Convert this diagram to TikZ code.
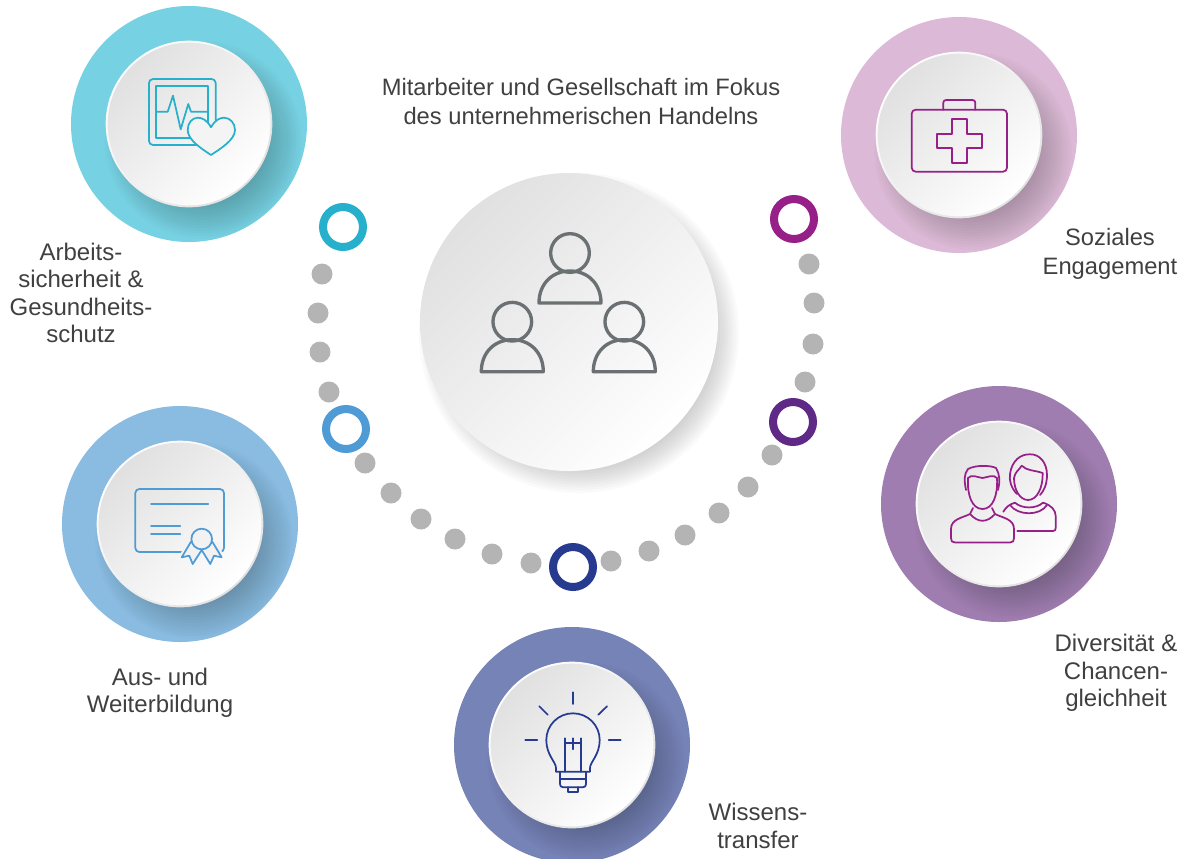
\documentclass[tikz,border=0pt]{standalone}
\usepackage{fontspec}
\setmainfont{Liberation Sans}
\definecolor{txtgrey}{HTML}{404040}
\definecolor{dotgrey}{HTML}{B4B4B4}
\definecolor{iconcyan}{HTML}{26B0CC}
\definecolor{iconmag}{HTML}{962087}
\definecolor{iconblue}{HTML}{4F9BD5}
\definecolor{iconnavy}{HTML}{263B8F}
\definecolor{icongrey}{HTML}{6B7072}
\colorlet{D4}{black!12}
\colorlet{E1}{black!12}
\tikzstyle{greydot}=[circle,fill=dotgrey,inner sep=0pt,minimum size=15.75pt]
\tikzstyle{ringdot}=[circle,fill=white,line width=6pt,inner sep=0pt,minimum size=30pt]
\tikzstyle{outerdisc}=[circle,inner sep=0pt,minimum size=177pt]
\tikzstyle{rimdisc}=[circle,inner sep=0pt,minimum size=125pt,
                     top color=white,bottom color=D4,shading angle=45]
\tikzstyle{facedisc}=[circle,inner sep=0pt,minimum size=122pt,
                      top color=E1,bottom color=white,shading angle=45]
\tikzstyle{label}=[text=txtgrey,align=center,font=\fontsize{18}{20.6}\selectfont]
\tikzstyle{widelabel}=[text=txtgrey,align=center,font=\fontsize{17.8}{21.75}\selectfont]
\tikzstyle{icon}=[line width=1.3pt,line join=round,line cap=round]
\newcommand{\badge}[4]{%
  \node (#1) at (#2,#3) [outerdisc,fill=#4]{};
  \begin{scope}
    \clip (#2,#3) circle (88.5pt);
    \foreach \r in {46,48,...,74}
      \fill[black,fill opacity=.015] (#2+14,#3+16) circle (\r pt);
  \end{scope}
  \node (#1rim) at (#2,#3) [rimdisc]{};
  \node (#1face) at (#2,#3) [facedisc]{};
}
\begin{document}
\begin{tikzpicture}[x=0.75pt,y=-0.75pt]
  \useasboundingbox (0,0) rectangle (1186,858);
  \clip (0,0) rectangle (1186,858);

  % centre disc
  \foreach \r in {100,102,...,120}
    \fill[black,fill opacity=.018] (579,333) circle (\r pt);
  \node (centre) at (569,322) [circle,inner sep=0pt,minimum size=223.5pt,
    top color=E1,bottom color=white,shading angle=45]{};
  \foreach \x/\y [count=\i] in {570/253,512.3/321.7,624.3/321.7}{
    \node (head\i) at (\x,\y) [circle,draw=icongrey,line width=2.5pt,
      inner sep=0pt,minimum size=29pt]{};
    \draw[icongrey,line width=2.5pt,line join=round] (\x-31,\y+50)
      .. controls (\x-31,\y+31) and (\x-18,\y+18) .. (\x,\y+18)
      .. controls (\x+18,\y+18) and (\x+31,\y+31) .. (\x+31,\y+50) -- cycle;
  }

  % dotted arc
  \foreach \x/\y [count=\i] in {322/274,318/313,320/352,329/392,365/463,391/493,
      421/519,455/539,492/554,531/563,611/561,649/551,685/535,719/513,748/487,
      772/455,805/382,813/344,814/303,809/264}
    \node (dot\i) at (\x,\y) [greydot]{};
  \node (ring1) at (343,227) [ringdot,draw=iconcyan]{};
  \node (ring2) at (346,429) [ringdot,draw=iconblue]{};
  \node (ring3) at (573,567) [ringdot,draw=iconnavy]{};
  \node (ring4) at (793,422) [ringdot,draw={rgb,255:red,94;green,42;blue,133}]{};
  \node (ring5) at (794,219) [ringdot,draw=iconmag]{};

  % badges
  \definecolor{cyanout}{HTML}{76D2E2}
  \definecolor{lilacout}{HTML}{DCB9D6}
  \definecolor{purpleout}{HTML}{A07DB0}
  \definecolor{navyout}{HTML}{7683B7}
  \definecolor{blueout}{HTML}{8ABBE1}
  \badge{health}{189}{124}{cyanout}
  \badge{social}{959}{135}{lilacout}
  \badge{divers}{999}{504}{purpleout}
  \badge{know}{572}{745}{navyout}
  \badge{train}{180}{524}{blueout}

  % monitor and heart
  \begin{scope}[icon,draw=iconcyan]
    \draw[rounded corners=3pt] (149,79) rectangle (215.7,145);
    \draw (156,86) rectangle (208.3,138.3);
    \draw (156,111.7) -- (167.7,111.7) -- (173,95.7) -- (180.7,129.3)
      -- (188.3,104) -- (191,111.7) -- (208.3,111.7);
    \draw[fill=black!4.5] (211,127.3) .. controls (207,120) and (202,117.7) .. (198,117.7)
      .. controls (192,117.7) and (187.7,123) .. (187.7,130)
      .. controls (187.7,140) and (202,149) .. (211,155)
      .. controls (220,149) and (235,140) .. (235,130)
      .. controls (235,123) and (230,117.7) .. (224,117.7)
      .. controls (220,117.7) and (215,120) .. (211,127.3) -- cycle;
  \end{scope}

  % first aid kit
  \begin{scope}[icon,draw=iconmag]
    \draw[rounded corners=3pt] (911.7,109.7) rectangle (1007,171.7);
    \draw[rounded corners=2pt] (943.3,109.7) -- (943.3,100) -- (975.3,100) -- (975.3,109.7);
    \draw (951.7,119) -- (967.3,119) -- (967.3,133.7) -- (981.7,133.7) -- (981.7,148.3)
      -- (967.3,148.3) -- (967.3,163) -- (951.7,163) -- (951.7,148.3) -- (937.3,148.3)
      -- (937.3,133.7) -- (951.7,133.7) -- cycle;
  \end{scope}

  % man and woman
  \begin{scope}[icon,draw=iconmag]
    \draw (970,514) .. controls (962,518) and (951,519) .. (951,529) -- (951,538)
      .. controls (951,541) and (952,542.5) .. (955,542.5) -- (1010,542.5)
      .. controls (1013,542.5) and (1014,541) .. (1014,538) -- (1014,529)
      .. controls (1014,519) and (1003,518) .. (995,514);
    \draw (970,514) .. controls (978,523) and (987,523) .. (995,514);
    \draw (973,508) -- (970,514) (992,508) -- (995,514);
    \draw (968,478) .. controls (967,495) and (972,509) .. (982.5,509)
      .. controls (993,509) and (998,495) .. (997,478);
    \draw (968,478) .. controls (972,474) and (976,477) .. (982.5,478)
      .. controls (989,477) and (993,474) .. (997,478);
    \draw (966,490) .. controls (964,480) and (964,474) .. (968,469)
      .. controls (975,465) and (990,465) .. (996,468)
      .. controls (1000,474) and (1000,482) .. (998,490);
    % woman
    \draw (1017,494) .. controls (1011,488) and (1009,480) .. (1010,474)
      .. controls (1012,460) and (1021,454) .. (1030,454.3)
      .. controls (1040,454) and (1047,463) .. (1047,475)
      .. controls (1047,484) and (1044,491) .. (1040,495);
    \draw (1014,478) .. controls (1014,490) and (1020,500) .. (1028,500)
      .. controls (1037,500) and (1043,488) .. (1042.7,473)
      .. controls (1034,470) and (1027,471) .. (1021.7,465.7)
      .. controls (1019,470) and (1015,472) .. (1014,478);
    \draw (1003.3,511.7) .. controls (1006,507) and (1010,504) .. (1015,502.7)
      .. controls (1022,509) and (1036,509) .. (1043,502.7)
      .. controls (1051,505) and (1055.7,510) .. (1055.7,516) -- (1055.7,528)
      .. controls (1055.7,530) and (1055,531) .. (1053,531) -- (1017.3,531);
    \draw (1010,505) .. controls (1018,516) and (1040,516) .. (1047,505);
  \end{scope}

  % light bulb
  \begin{scope}[icon,draw=iconnavy]
    \draw (573,692.3) -- (573,704);
    \draw (539.3,706.3) -- (547.7,714.7);
    \draw (607,706.3) -- (598.3,714.7);
    \draw (525.3,740) -- (537.3,740);
    \draw (608.7,740) -- (620.7,740);
    \draw (556,771.7) -- (556,768) .. controls (556,762) and (546.3,755) .. (546.3,740)
      .. controls (546.3,725.25) and (558.25,713.3) .. (573,713.3)
      .. controls (587.75,713.3) and (599.7,725.25) .. (599.7,740)
      .. controls (599.7,755) and (590,762) .. (590,768) -- (590,771.7) -- cycle;
    \draw (560,772.3) -- (560,784) .. controls (560,786) and (561,787.3) .. (563.3,787.3)
      -- (582.7,787.3) .. controls (585,787.3) and (586,786) .. (586,784) -- (586,772.3);
    \draw (560,779) -- (586,779);
    \draw (567.7,787.3) -- (567.7,791.7) -- (578.3,791.7) -- (578.3,787.3);
    \draw (564.7,738.3) -- (564.7,771.7);
    \draw (581.3,738.3) -- (581.3,771.7);
    \draw (564.7,743.3) -- (581.3,743.3);
    \draw (573,738.3) -- (573,749.3);
  \end{scope}

  % certificate
  \begin{scope}[icon,draw=iconblue]
    \draw[rounded corners=3pt] (135.3,489) rectangle (224,552);
    \draw (151,504.3) -- (208.3,504.3);
    \draw (151,525.7) -- (180.3,525.7);
    \draw (151,534) -- (180.3,534);
    \fill[black!5] (186,542) -- (220,542) -- (222,553) -- (181,553) -- cycle;
    \draw[fill=black!5] (191,541.7) -- (181.7,557.3) -- (189.3,555.7) -- (192.7,564) -- (201.7,550)
      -- (210.3,564) -- (214,555.7) -- (221.7,557.3) -- (212.3,541.7);
    \node (seal) at (201.7,539) [circle,draw=iconblue,fill=black!5,line width=1.3pt,
      inner sep=0pt,minimum size=15.5pt]{};
  \end{scope}

  % texts
  \node (title) at (581,102) [widelabel]
    {Mitarbeiter und Gesellschaft im Fokus\\des unternehmerischen Handelns};
  \node (healthtxt) at (81,293) [label]{Arbeits-\\sicherheit \&\\Gesundheits-\\schutz};
  \node (socialtxt) at (1110,254) [widelabel]{Soziales\\Engagement};
  \node (diverstxt) at (1116,673) [label]{Diversität \&\\Chancen-\\gleichheit};
  \node (knowtxt) at (758,826) [label]{Wissens-\\transfer};
  \node (traintxt) at (160,693) [label]{Aus- und\\Weiterbildung};
\end{tikzpicture}
\end{document}
